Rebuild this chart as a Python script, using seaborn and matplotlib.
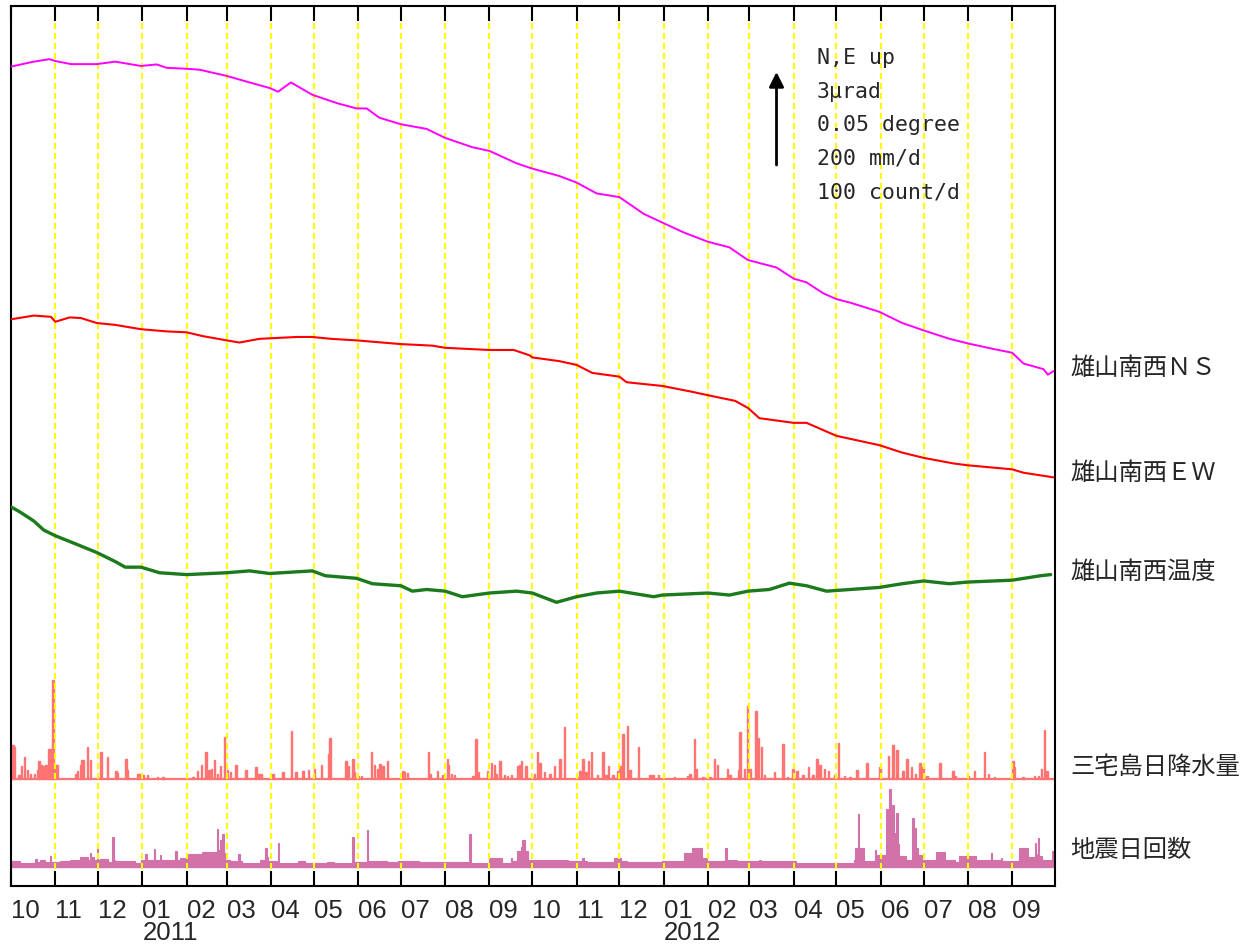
import numpy as np
import pandas as pd
import matplotlib
matplotlib.use("Agg")
import matplotlib.pyplot as plt
import seaborn as sns

# ---------------------------------------------------------------- data
START = pd.Timestamp("2010-10-01")
END = pd.Timestamp("2012-10-01")

# tilt, north-south component (micro-radian, relative, north up)
NS_DAYS = [0, 16, 27, 31, 42, 60, 73, 91, 102, 109, 123, 132, 151, 167, 181, 187,
           196, 211, 229, 242, 249, 258, 273, 291, 304, 323, 335, 354, 365, 384,
           396, 410, 426, 443, 456, 471, 488, 503, 516, 536, 548, 557, 569, 578,
           588, 608, 624, 639, 657, 670, 688, 701, 709, 723, 726, 730]
NS_URAD = [0.00, 0.16, 0.24, 0.18, 0.08, 0.08, 0.16, 0.02, 0.07, -0.04, -0.07, -0.10,
           -0.30, -0.51, -0.69, -0.81, -0.51, -0.91, -1.19, -1.35, -1.35, -1.65,
           -1.86, -2.01, -2.30, -2.60, -2.72, -3.12, -3.29, -3.53, -3.74, -4.09,
           -4.21, -4.75, -5.03, -5.35, -5.65, -5.83, -6.24, -6.48, -6.84, -6.96,
           -7.32, -7.50, -7.62, -7.91, -8.27, -8.51, -8.78, -8.93, -9.11, -9.23,
           -9.58, -9.76, -9.94, -9.82]

# tilt, east-west component (micro-radian, relative, east up)
EW_DAYS = [0, 16, 28, 31, 41, 49, 60, 73, 91, 109, 123, 134, 151, 160, 174, 200,
           211, 224, 242, 273, 295, 304, 335, 352, 363, 365, 384, 396, 407, 426,
           431, 456, 476, 488, 507, 516, 524, 548, 557, 578, 608, 624, 639, 660,
           670, 701, 709, 726, 730]
EW_URAD = [0.00, 0.12, 0.08, -0.08, 0.06, 0.04, -0.12, -0.18, -0.32, -0.39, -0.42,
           -0.54, -0.68, -0.75, -0.63, -0.57, -0.57, -0.63, -0.68, -0.80, -0.85,
           -0.92, -0.99, -0.99, -1.16, -1.23, -1.35, -1.47, -1.73, -1.85, -2.03,
           -2.15, -2.33, -2.45, -2.63, -2.86, -3.19, -3.34, -3.34, -3.76, -4.06,
           -4.30, -4.47, -4.65, -4.71, -4.84, -4.95, -5.07, -5.10]

# sensor temperature (deg C, relative)
TEMP_DAYS = [0, 6, 16, 23, 31, 44, 60, 73, 80, 91, 104, 123, 151, 167, 181, 211,
             220, 242, 253, 273, 281, 291, 304, 316, 335, 354, 365, 382, 396, 410,
             426, 450, 456, 488, 503, 516, 531, 545, 557, 571, 608, 624, 639, 657,
             670, 701, 721, 728]
TEMP_DEG = [0.0000, -0.0026, -0.0076, -0.0125, -0.0155, -0.0195, -0.0245, -0.0294,
            -0.0324, -0.0324, -0.0354, -0.0364, -0.0354, -0.0344, -0.0358, -0.0344,
            -0.0370, -0.0384, -0.0413, -0.0424, -0.0453, -0.0444, -0.0453, -0.0483,
            -0.0463, -0.0453, -0.0463, -0.0513, -0.0483, -0.0463, -0.0453, -0.0483,
            -0.0474, -0.0463, -0.0474, -0.0453, -0.0444, -0.0410, -0.0424, -0.0453,
            -0.0433, -0.0413, -0.0398, -0.0413, -0.0404, -0.0394, -0.0370, -0.0364]

# daily precipitation at Miyakejima (mm/d); days without rain are omitted
RAIN_DAYS = [1, 2, 5, 7, 9, 11, 13, 16, 18, 19, 21, 22, 23, 24, 26, 27, 29, 31, 32,
             45, 46, 48, 49, 50, 53, 55, 62, 63, 67, 73, 74, 80, 81, 88, 89, 92, 95,
             102, 106, 127, 130, 133, 136, 138, 140, 142, 144, 146, 149, 151, 153,
             157, 164, 171, 173, 175, 183, 190, 196, 199, 204, 208, 212, 217, 222,
             223, 234, 235, 236, 239, 240, 243, 245, 252, 254, 256, 258, 260, 263,
             274, 275, 277, 292, 293, 298, 302, 305, 306, 308, 310, 323, 325, 327,
             333, 336, 338, 339, 342, 345, 347, 350, 354, 356, 357, 360, 366, 368,
             370, 373, 377, 380, 384, 387, 396, 398, 400, 402, 404, 406, 410, 414,
             416, 418, 421, 424, 426, 428, 431, 433, 439, 447, 449, 453, 464, 473,
             475, 478, 479, 484, 489, 492, 494, 501, 503, 509, 510, 513, 515, 517,
             521, 523, 525, 527, 534, 540, 543, 547, 550, 554, 558, 561, 564, 566,
             569, 572, 576, 579, 583, 587, 592, 599, 608, 614, 617, 620, 624, 627,
             630, 633, 636, 638, 641, 650, 659, 661, 670, 674, 681, 684, 688, 701,
             702, 708, 716, 719, 721, 723, 725]
RAIN_MM = [71, 68, 8, 26, 47, 19, 9, 10, 19, 37, 28, 26, 27, 28, 64, 64, 212, 28, 28,
           9, 17, 30, 39, 39, 68, 39, 56, 56, 47, 17, 12, 41, 19, 10, 10, 7, 7,
           4, 4, 4, 17, 30, 56, 19, 21, 39, 9, 26, 89, 19, 13,
           30, 19, 24, 9, 9, 10, 15, 102, 13, 17, 19, 21, 28, 53,
           87, 37, 21, 26, 41, 15, 6, 6, 56, 28, 21, 32, 26, 37,
           17, 13, 12, 56, 10, 17, 7, 41, 30, 10, 8, 6, 86, 15,
           17, 34, 30, 10, 37, 7, 6, 7, 26, 30, 37, 26, 10, 56,
           34, 15, 10, 26, 41, 111, 4, 17, 43, 15, 37, 58, 7, 56,
           7, 26, 7, 17, 26, 96, 112, 19, 68, 8, 8, 8, 4, 6,
           10, 86, 21, 4, 4, 43, 30, 21, 7, 19, 99, 21, 156, 21,
           145, 88, 68, 7, 15, 74, 4, 21, 17, 7, 24, 7, 41, 30,
           21, 17, 7, 77, 6, 4, 19, 34, 24, 49, 73, 62, 17, 41,
           24, 10, 34, 24, 6, 34, 17, 6, 6, 17, 56, 10, 4, 37,
           24, 4, 6, 6, 21, 104, 17]

# daily earthquake counts: (first day, last day, count per day)
QUAKE_RUNS = [(0, 5, 6), (6, 16, 4), (17, 17, 9), (18, 19, 5), (20, 23, 8), (24, 26, 5),
              (27, 27, 12), (28, 33, 5), (34, 40, 6), (41, 47, 7), (48, 53, 11),
              (54, 54, 8), (55, 55, 15), (56, 57, 11), (58, 59, 7), (60, 60, 19),
              (61, 61, 8), (62, 67, 9), (68, 70, 5), (71, 71, 32), (72, 72, 7),
              (73, 86, 6), (87, 90, 4), (91, 93, 7), (94, 94, 14), (95, 99, 7),
              (100, 100, 19), (101, 103, 8), (104, 104, 13), (105, 114, 7),
              (115, 115, 17), (116, 117, 8), (118, 123, 10), (124, 133, 14),
              (134, 143, 16), (144, 144, 41), (145, 145, 18), (146, 146, 29),
              (147, 147, 16), (148, 148, 36), (149, 149, 15), (150, 152, 7),
              (153, 158, 6), (159, 159, 14), (160, 161, 6), (162, 173, 4),
              (174, 177, 7), (178, 178, 20), (179, 179, 11), (180, 186, 6),
              (187, 187, 26), (188, 200, 4), (201, 205, 6), (206, 220, 4),
              (221, 225, 5), (226, 238, 4), (239, 239, 32), (240, 248, 5),
              (249, 249, 40), (250, 262, 6), (263, 270, 5), (271, 285, 6),
              (286, 320, 5), (321, 321, 35), (322, 334, 4), (335, 343, 10),
              (344, 349, 4), (350, 350, 10), (351, 353, 6), (354, 356, 17),
              (357, 357, 22), (358, 359, 29), (360, 361, 17), (362, 364, 8),
              (365, 385, 7), (386, 389, 8), (390, 399, 6), (400, 400, 10),
              (401, 402, 6), (403, 421, 5), (422, 426, 10), (427, 430, 6),
              (431, 455, 5), (456, 470, 6), (471, 476, 15), (477, 483, 20),
              (484, 486, 10), (487, 499, 6), (500, 500, 20), (501, 507, 7),
              (508, 523, 6), (524, 524, 7), (525, 549, 6), (550, 589, 4),
              (590, 590, 7), (591, 592, 20), (593, 593, 57), (594, 596, 20),
              (597, 604, 6), (605, 605, 18), (606, 612, 13), (613, 613, 62),
              (614, 614, 50), (615, 615, 84), (616, 616, 45), (617, 617, 67),
              (618, 618, 30), (619, 619, 37), (620, 620, 58), (621, 621, 25),
              (622, 626, 12), (627, 630, 7), (631, 631, 53), (632, 632, 40),
              (633, 633, 42), (634, 634, 20), (635, 637, 13), (638, 647, 7),
              (648, 653, 16), (654, 660, 7), (661, 663, 5), (664, 675, 12),
              (676, 685, 7), (686, 686, 15), (687, 692, 7), (693, 693, 10),
              (694, 705, 6), (706, 711, 20), (712, 716, 11), (717, 717, 26),
              (718, 718, 14), (719, 719, 31), (720, 721, 12), (722, 728, 7),
              (729, 730, 17)]

MONTH_LABELS = ["10", "11", "12", "01", "02", "03", "04", "05", "06", "07", "08", "09",
                "10", "11", "12", "01", "02", "03", "04", "05", "06", "07", "08", "09"]
YEAR_LABELS = {"2011-01-01": "2011", "2012-01-01": "2012"}

TRACE_NAMES = ["雄山南西ＮＳ", "雄山南西ＥＷ", "雄山南西温度", "三宅島日降水量", "地震日回数"]
SCALE_TEXT = ["N,E up", "3μrad", "0.05 degree", "200 mm/d", "100 count/d"]
ARROW_URAD = 3.0

# ---------------------------------------------------------------- style
sns.set_style("white")
plt.rcParams["font.family"] = ["Noto Sans CJK JP", "DejaVu Sans"]

W, H = 1257, 949
AX_L, AX_R, AX_T, AX_B = 11, 1055, 6, 886          # frame in pixels
SPAN = AX_B - AX_T

C_NS, C_EW, C_TEMP = "#ff00ff", "#ff0000", "#1b7a1b"
C_RAIN, C_QUAKE = "#ff7373", "#d272a9"
AXIS_FONT = ["Liberation Sans Narrow", "Liberation Sans"]

fig = plt.figure(figsize=(W / 100, H / 100), dpi=100)
fig.patch.set_facecolor("white")
ax = fig.add_axes([AX_L / W, (H - AX_B) / H, (AX_R - AX_L) / W, SPAN / H])
ax.set_xlim(START, END)
ax.set_ylim(0, 1)
ax.set_yticks([])
ax.patch.set_visible(False)
ax.set_zorder(3)


def days_to_dates(days):
    return START + pd.to_timedelta(np.asarray(days), unit="D")


def trace_axes(anchor_px, px_per_unit, z):
    """Twin axes whose value 0 sits at anchor_px with the given vertical scale."""
    t = ax.twinx()
    hi = (anchor_px - AX_T) / px_per_unit
    t.set_ylim(hi - SPAN / px_per_unit, hi)
    t.set_axis_off()
    t.set_zorder(z)
    return t


ARROW_PX = 93.0                      # length of the scale arrow
tilt_scale = ARROW_PX / 3.0          # px per micro-radian
temp_scale = ARROW_PX / 0.05         # px per degree
rain_scale = ARROW_PX / 200.0        # px per mm/d
quake_scale = ARROW_PX / 100.0       # px per count/d

ax_ns = trace_axes(66.6, tilt_scale, 4)
ax_ew = trace_axes(319.3, tilt_scale, 4)
ax_temp = trace_axes(506.9, temp_scale, 4)
ax_rain = trace_axes(778.5, rain_scale, 1)
ax_quake = trace_axes(867.0, quake_scale, 1)

# tilt and temperature traces
sns.lineplot(x=days_to_dates(NS_DAYS), y=NS_URAD, ax=ax_ns, color=C_NS, lw=1.4)
sns.lineplot(x=days_to_dates(EW_DAYS), y=EW_URAD, ax=ax_ew, color=C_EW, lw=1.5)
sns.lineplot(x=days_to_dates(TEMP_DAYS), y=TEMP_DEG, ax=ax_temp, color=C_TEMP, lw=2.4)

# daily rain bars
ax_rain.bar(days_to_dates(RAIN_DAYS), RAIN_MM, width=1.0, align="edge",
            color=C_RAIN, edgecolor=C_RAIN, linewidth=1.0)
ax_rain.axhline(0, color=C_RAIN, lw=1.6)

# daily earthquake counts
quake = np.zeros((END - START).days, dtype=float)
for first, last, count in QUAKE_RUNS:
    quake[first:last + 1] = count
ax_quake.bar(days_to_dates(np.arange(len(quake))), quake, width=1.0, align="edge",
             color=C_QUAKE, edgecolor=C_QUAKE, linewidth=0.8)
ax_quake.axhline(0, color=C_QUAKE, lw=1.6)

# month boundaries: ticks top and bottom, dashed guides between
month_starts = pd.date_range(START, periods=24, freq="MS")
for m in month_starts[1:]:
    ax.axvline(m, ymin=(AX_B - 869) / SPAN, ymax=(AX_B - 21) / SPAN,
               color="#ffff00", lw=1.5, ls=(0, (2.9, 1.9)), zorder=2)

ax.set_xticks(month_starts)
ax.set_xticklabels(MONTH_LABELS, ha="left", fontsize=18.5, family=AXIS_FONT)
ax.tick_params(axis="x", direction="in", length=11, width=1.5, color="black",
               top=True, bottom=True, labelbottom=True, labeltop=False, pad=9)
for s in ax.spines.values():
    s.set_visible(True)
    s.set_color("black")
    s.set_linewidth(1.5)

# year under January
for day, year in YEAR_LABELS.items():
    ax.text(pd.Timestamp(day), (AX_B - 933) / SPAN, year, transform=ax.get_xaxis_transform(),
            ha="left", va="center", fontsize=18.5, family=AXIS_FONT)

# scale arrow drawn in tilt units on the NS axes
arrow_x = days_to_dates([536])[0]
arrow_base = (66.6 - 165.0) / tilt_scale
ax_ns.annotate("", xy=(arrow_x, arrow_base + ARROW_URAD), xytext=(arrow_x, arrow_base),
               arrowprops=dict(arrowstyle="-|>", color="black", lw=2.0,
                               mutation_scale=22, shrinkA=0, shrinkB=0))

for i, line in enumerate(SCALE_TEXT):
    fig.text(817 / W, 1 - (58 + 33.5 * i) / H, line, va="center", ha="left",
             fontsize=15.5, family=["DejaVu Sans Mono"])

# trace names at the right-hand side
for name, y_px in zip(TRACE_NAMES, [368, 473, 572, 767, 850]):
    fig.text(1070 / W, 1 - y_px / H, name, va="center", ha="left", fontsize=17.5,
             family=["Noto Sans CJK JP", "DejaVu Sans"])

fig.savefig("out.png", dpi=100, facecolor="white")
